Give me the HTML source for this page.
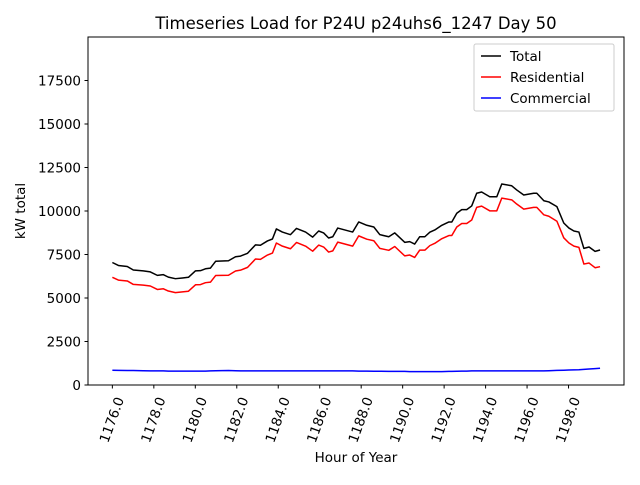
<!DOCTYPE html>
<html><head><meta charset="utf-8"><style>
html,body{margin:0;padding:0;background:#fff;}
text{font-family:"DejaVu Sans","Liberation Sans",sans-serif;}
</style></head><body>
<svg id="chart" width="640" height="480" xmlns="http://www.w3.org/2000/svg">
<rect width="640" height="480" fill="#fff"/>
<text x="356" y="29" font-size="16.5" text-anchor="middle">Timeseries Load for P24U p24uhs6_1247  Day 50</text>
<g id="grid"></g>
<g id="series"></g>
<rect x="88" y="37" width="536" height="348" fill="none" stroke="#000" stroke-width="1"/>
<g id="xticks"></g>
<g id="yticks"></g>
<text x="356" y="462" font-size="13.5" text-anchor="middle">Hour of Year</text>
<text x="25" y="211" font-size="13.5" text-anchor="middle" transform="rotate(-90,25,211)">kW total</text>
<g>
<rect x="474" y="44" width="140" height="67" rx="2" fill="#fff" stroke="#ccc" stroke-width="1"/>
<g><line x1="481" y1="56" x2="501" y2="56" stroke="#000" stroke-width="1.5"/><text x="510" y="61" font-size="13.5">Total</text></g>
<g><line x1="481" y1="77" x2="501" y2="77" stroke="red" stroke-width="1.5"/><text x="510" y="82" font-size="13.5">Residential</text></g>
<g><line x1="481" y1="98" x2="501" y2="98" stroke="blue" stroke-width="1.5"/><text x="510" y="103" font-size="13.5">Commercial</text></g>
</g>
</svg>
<script>
const hours=[1176.00,1176.29,1176.72,1177.01,1177.49,1177.83,1178.17,1178.46,1178.70,1179.04,1179.38,1179.67,1180.01,1180.25,1180.49,1180.73,1180.98,1181.60,1181.94,1182.18,1182.52,1182.90,1183.14,1183.48,1183.72,1183.91,1184.20,1184.59,1184.88,1185.32,1185.66,1185.95,1186.19,1186.43,1186.63,1186.87,1187.59,1187.88,1188.27,1188.61,1188.90,1189.33,1189.62,1190.10,1190.34,1190.58,1190.82,1191.07,1191.31,1191.55,1191.89,1192.23,1192.37,1192.61,1192.85,1193.09,1193.33,1193.57,1193.81,1194.20,1194.54,1194.78,1195.26,1195.50,1195.84,1196.32,1196.47,1196.81,1197.05,1197.44,1197.77,1198.02,1198.26,1198.50,1198.74,1198.99,1199.28,1199.52];
const totalLoad=[7040,6870,6810,6610,6560,6500,6300,6340,6200,6110,6150,6190,6560,6570,6680,6720,7110,7140,7370,7410,7570,8050,8030,8280,8390,8970,8790,8640,9000,8790,8500,8850,8740,8450,8520,9020,8790,9370,9180,9080,8640,8520,8740,8200,8240,8100,8520,8520,8780,8910,9180,9370,9370,9870,10080,10080,10290,11020,11090,10820,10820,11550,11450,11210,10920,11020,11020,10590,10520,10250,9310,9020,8850,8790,7850,7930,7680,7760];
const residentialLoad=[6190,6030,5980,5780,5740,5690,5490,5530,5400,5310,5350,5390,5760,5770,5880,5910,6290,6310,6550,6600,6760,7240,7220,7470,7580,8160,7980,7830,8190,7980,7690,8040,7930,7640,7710,8210,7980,8570,8380,8290,7850,7740,7960,7420,7470,7330,7750,7750,8010,8140,8410,8590,8590,9080,9280,9280,9480,10210,10280,10010,10010,10740,10640,10400,10110,10210,10210,9780,9700,9410,8460,8160,7980,7910,6950,7010,6740,6800];
const commercialLoad=[850,840,830,830,820,810,810,810,800,800,800,800,800,800,800,810,820,830,820,810,810,810,810,810,810,810,810,810,810,810,810,810,810,810,810,810,810,800,800,790,790,780,780,780,770,770,770,770,770,770,770,780,780,790,800,800,810,810,810,810,810,810,810,810,810,810,810,810,820,840,850,860,870,880,900,920,940,960];
const xTicks=[1176,1178,1180,1182,1184,1186,1188,1190,1192,1194,1196,1198];
const xTickLabels=["1176.0","1178.0","1180.0","1182.0","1184.0","1186.0","1188.0","1190.0","1192.0","1194.0","1196.0","1198.0"];
const yTicks=[0,2500,5000,7500,10000,12500,15000,17500];
const yTickLabels=["0","2500","5000","7500","10000","12500","15000","17500"];
const NS="http://www.w3.org/2000/svg";
const X0=1174.825,X1=1200.675,Y0=0,Y1=20000;
function sx(h){return 88+(h-X0)/(X1-X0)*536;}
function sy(v){return 385-(v-Y0)/(Y1-Y0)*348;}
const xg=document.getElementById('xticks');
xTicks.forEach((t,i)=>{
  const x=sx(t);
  const l=document.createElementNS(NS,'line');
  l.setAttribute('x1',x);l.setAttribute('x2',x);l.setAttribute('y1',385);l.setAttribute('y2',388.5);
  l.setAttribute('stroke','#000');
  
  
  xg.appendChild(l);
  const tx=document.createElementNS(NS,'text');
  tx.setAttribute('x',x);tx.setAttribute('y',420);
  tx.setAttribute('font-size','13.5');tx.setAttribute('text-anchor','middle');
  tx.setAttribute('dominant-baseline','central');
  tx.setAttribute('transform','rotate(-70,'+x+',420)');
  tx.textContent=xTickLabels[i];
  
  
  xg.appendChild(tx);
});
const yg=document.getElementById('yticks');
yTicks.forEach((t,i)=>{
  const y=sy(t);
  const l=document.createElementNS(NS,'line');
  l.setAttribute('x1',84.5);l.setAttribute('x2',88);l.setAttribute('y1',y);l.setAttribute('y2',y);
  l.setAttribute('stroke','#000');
  
  
  yg.appendChild(l);
  const tx=document.createElementNS(NS,'text');
  tx.setAttribute('x',81);tx.setAttribute('y',y+5);
  tx.setAttribute('font-size','13.5');tx.setAttribute('text-anchor','end');
  tx.textContent=yTickLabels[i];
  
  
  yg.appendChild(tx);
});
const sg=document.getElementById('series');
function addLine(vals,color,name){
  const p=document.createElementNS(NS,'polyline');
  p.setAttribute('points',vals.map((v,i)=>sx(hours[i]).toFixed(2)+','+sy(v).toFixed(2)).join(' '));
  p.setAttribute('fill','none');p.setAttribute('stroke',color);p.setAttribute('stroke-width','1.5');
  p.setAttribute('stroke-linejoin','round');
  
  
  sg.appendChild(p);
}
addLine(totalLoad,'#000','total-line');
addLine(residentialLoad,'red','residential-line');
addLine(commercialLoad,'blue','commercial-line');
</script>
</body></html>
